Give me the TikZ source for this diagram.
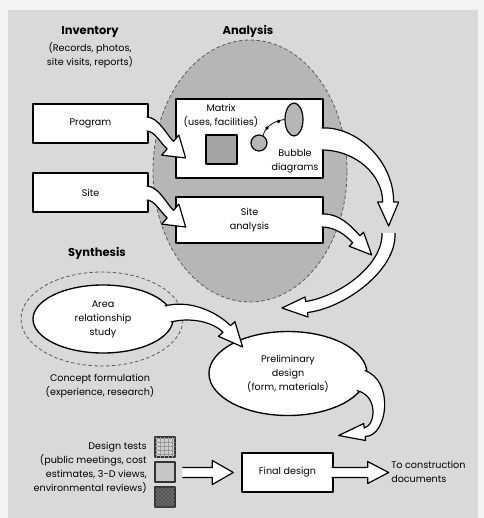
\documentclass[tikz,border=0pt]{standalone}
\usepackage{fontspec}
\setmainfont{Poppins}
\usetikzlibrary{calc,patterns,shapes.geometric}
\definecolor{page}{HTML}{D9D9D9}
\definecolor{outer}{HTML}{F3F3F3}
\definecolor{anafill}{HTML}{B6B6B6}
\definecolor{sqfill}{HTML}{A4A4A4}
\begin{document}
\begin{tikzpicture}[x=0.75pt,y=-0.75pt, line join=round,
  lbl/.style={font=\fontsize{7.2}{10.5}\selectfont, align=center, inner sep=0pt},
  ttl/.style={font=\fontsize{8.6}{11}\selectfont\bfseries, inner sep=0pt},
  box/.style={draw=black, line width=1pt, fill=white, rectangle, inner sep=0pt, lbl},
  oval/.style={draw=black, line width=1pt, fill=white, ellipse, inner sep=0pt, lbl},
  dashring/.style={draw=black!65, line width=0.6pt, dash pattern=on 2.6pt off 1.8pt, ellipse, inner sep=0pt},
  barrow/.style={draw=black, line width=0.9pt, fill=white},
  swatch/.style={draw=black!80, line width=0.8pt, minimum size=15pt, inner sep=0pt}]
\fill[outer] (0,0) rectangle (484,518);
\fill[page] (8,10) rectangle (478,518);
\useasboundingbox (0,0) rectangle (484,518);

% titles
\node[ttl] (inv) at (90,32) {Inventory};
\node[lbl] (invsub) at (90,55) {(Records, photos,\\site visits, reports)};
\node[ttl] (anat) at (248,31) {Analysis};
\node[ttl] (synt) at (97,253) {Synthesis};

% analysis ellipse
\node[dashring, fill=anafill, minimum width=145.5pt, minimum height=196.5pt] (anaell) at (250,171) {};

% inventory boxes
\node[box, minimum width=86.25pt, minimum height=29.25pt] (prog) at (90.5,123.5) {Program};
\node[box, minimum width=86.25pt, minimum height=29.25pt] (site) at (90.5,192.5) {Site};

% analysis boxes
\node[box, minimum width=110.25pt, minimum height=59.25pt] (matrix) at (249.5,138.5) {};
\node[lbl] (mtxt) at (221,115.5) {Matrix\\(uses, facilities)};
\node[draw=black, line width=0.9pt, fill=sqfill, minimum width=23.25pt, minimum height=21.75pt, inner sep=0pt] (msq) at (221.5,149.5) {};
\node[circle, draw=black, line width=0.9pt, fill=anafill, minimum size=12pt, inner sep=0pt] (bub1) at (259,143) {};
\node[ellipse, draw=black, line width=0.9pt, fill=anafill, minimum width=13.5pt, minimum height=24.75pt, inner sep=0pt] (bub2) at (294,119.5) {};
\draw[line width=0.6pt] (bub1.60) .. controls (264,129) and (272,121) .. (bub2.west);
\fill (267,128) circle[radius=1.4pt];
\fill (278.5,121.5) circle[radius=1.4pt];
\node[lbl] (bubt) at (295,161) {Bubble\\diagrams};
\node[box, minimum width=110.25pt, minimum height=34.5pt] (sa) at (249.5,220) {Site\\analysis};

% synthesis
\node[dashring, minimum width=121.5pt, minimum height=70.5pt] (concept) at (102,319) {};
\node[oval, minimum width=105pt, minimum height=51pt] (area) at (103,319) {Area\\relationship\\study};
\node[lbl] (concepttxt) at (100,386) {Concept formulation\\(experience, research)};
\node[oval, minimum width=118.5pt, minimum height=63pt] (prelim) at (288,373.5) {Preliminary\\design\\(form, materials)};
\node[box, minimum width=68.25pt, minimum height=29.25pt] (final) at (287.5,472.5) {Final design};
\node[lbl, align=left, anchor=west] (constr) at (391,472) {To construction\\documents};

% design tests
\node[swatch, fill=gray!38, postaction={pattern=grid, pattern color=black!40}] (t1) at (165,447) {};
\node[swatch, fill=gray!45] (t2) at (165,472) {};
\node[swatch, fill=black!66, postaction={pattern=crosshatch dots, pattern color=black!40}] (t3) at (165,497) {};
\node[lbl, align=right, anchor=east] (tests) at (147,468) {Design tests\\(public meetings, cost\\estimates, 3-D views,\\environmental reviews)};

% block arrows
\draw[barrow, shift={(prog.east)}] (-2,-6.5) .. controls (10,-6.5) and (18.8,12.7) .. (24.9,17.8) -- (30.2,11.6) -- (37,34.5) -- (13,31.6) -- (18.5,25.4) .. controls (12.4,20.3) and (6,7.5) .. (-2,7.5);
\draw[barrow, shift={(site.east)}] (-2,-6.5) .. controls (10,-6.5) and (18.8,12.7) .. (24.9,17.8) -- (30.2,11.6) -- (37,34.5) -- (13,31.6) -- (18.5,25.4) .. controls (12.4,20.3) and (6,7.5) .. (-2,7.5);
\draw[barrow, shift={(matrix.east)}] (-2,-10.5) .. controls (32,-12.5) and (70,21.5) .. (70,63.5) -- (75,63.5) -- (65,87.5) -- (54,63.5) -- (59,63.5) .. controls (59,36.5) and (32,11.5) .. (-2,11.5);
\draw[barrow, shift={(sa.east)}] (-2,-6) .. controls (17,-7) and (29.3,8.5) .. (36.3,15.7) -- (39.9,12.2) -- (48,35) -- (25.5,26.2) -- (29.1,22.7) .. controls (22.1,15.5) and (12,7) .. (-2,7);
\coordinate (loopstart) at (388.5,233);
\draw[barrow, shift={(loopstart)}] (6.5,0) .. controls (8.5,37) and (-43.5,75) .. (-81,79.5) -- (-80.5,84) -- (-106.5,75) -- (-83.5,64) -- (-82.8,68.5) .. controls (-48.5,63) and (-5.5,32) .. (-6.5,0);
\draw[barrow, shift={(area.east)}] (-9,-13) .. controls (22,-21) and (50,-1) .. (56.7,6.7) -- (61.2,2.7) -- (69,28) -- (44.8,17.3) -- (49.3,13.3) .. controls (42.7,5.8) and (22,-3) .. (-3,3);
\draw[barrow, shift={(prelim.east)}] (-3,-3) .. controls (27,7) and (20,63) .. (-2.5,63) -- (-2,67) -- (-29,62) -- (-4,50) -- (-3.5,54.5) .. controls (8,52) and (11,22) .. (-11,17);
\draw[barrow, shift={(final.west)}] (-59,-5) -- (-29,-5) -- (-29,-12) -- (-8,0) -- (-29,12) -- (-29,5) -- (-59,5);
\draw[barrow, shift={(final.east)}] (-2,-5) -- (34,-5) -- (34,-11) -- (55,0) -- (34,11) -- (34,5) -- (-2,5);
\end{tikzpicture}
\end{document}
